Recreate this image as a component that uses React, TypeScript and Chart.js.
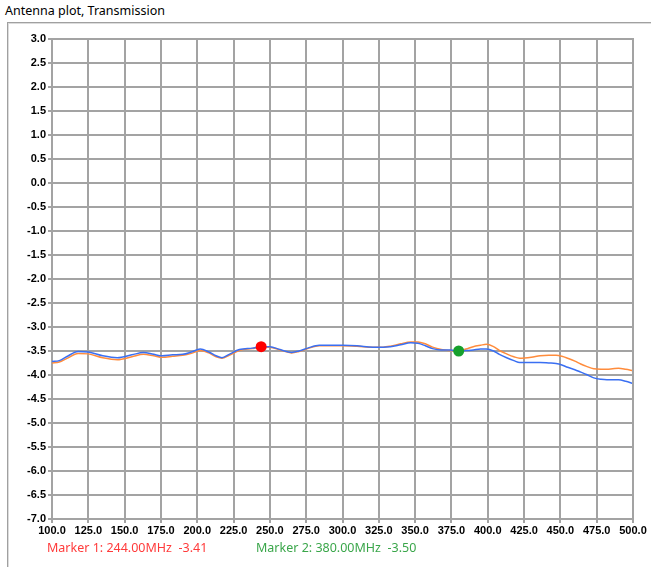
import React, { useEffect, useRef } from "react";
import { Chart, registerables } from "chart.js";

Chart.register(...registerables);

const freqs = [100,105,110,118,125,135,145,155,163,170,176,183,190,196,202,208,213,217,222,229,238,244,250,257,265,270,276,284,292,300,310,321,328,333,340,347,352,357,362,368,374,380,385,390,395,399,404,408,413,418,422,430,436,442,447,451,455,460,464,468,473,478,482,486,490,495,500];

const blueValues = [-3.72,-3.70,-3.62,-3.51,-3.52,-3.60,-3.64,-3.58,-3.53,-3.57,-3.60,-3.58,-3.57,-3.52,-3.46,-3.52,-3.60,-3.64,-3.57,-3.47,-3.44,-3.41,-3.41,-3.47,-3.53,-3.50,-3.44,-3.38,-3.38,-3.38,-3.39,-3.42,-3.42,-3.41,-3.37,-3.33,-3.34,-3.39,-3.45,-3.48,-3.48,-3.50,-3.49,-3.48,-3.46,-3.46,-3.50,-3.57,-3.64,-3.70,-3.74,-3.74,-3.74,-3.75,-3.76,-3.79,-3.84,-3.89,-3.94,-3.99,-4.06,-4.09,-4.10,-4.10,-4.10,-4.13,-4.18];

const orangeValues = [-3.75,-3.73,-3.66,-3.55,-3.56,-3.64,-3.68,-3.62,-3.57,-3.60,-3.63,-3.61,-3.59,-3.55,-3.49,-3.54,-3.62,-3.65,-3.59,-3.49,-3.45,-3.42,-3.42,-3.48,-3.54,-3.51,-3.45,-3.39,-3.39,-3.39,-3.40,-3.42,-3.42,-3.40,-3.35,-3.31,-3.31,-3.35,-3.42,-3.47,-3.49,-3.50,-3.46,-3.41,-3.38,-3.36,-3.41,-3.49,-3.56,-3.62,-3.65,-3.63,-3.60,-3.59,-3.59,-3.61,-3.65,-3.71,-3.77,-3.82,-3.87,-3.88,-3.88,-3.87,-3.86,-3.88,-3.91];

const markerFreqs = [244, 380];
const markerValues = [-3.41, -3.5];
const markerColors = ["#ff0000", "#16a02c"];
const markerTextColors = ["#ff3a3a", "#3aa64a"];

const xMin = 100, xMax = 500, xStep = 25;
const yMin = -7, yMax = 3, yStep = 0.5;

const title = "Antenna plot, Transmission";

export default function App() {
  const ref = useRef<HTMLCanvasElement>(null);

  useEffect(() => {
    const ctx = ref.current!;
    const gridColor = "#a3a3a3";
    const tickFont = { family: "'Liberation Sans', Arial, sans-serif", size: 11, weight: "bold" as const };
    const chart = new Chart(ctx, {
      type: "line",
      data: {
        datasets: [
          {
            type: "scatter" as any,
            data: markerFreqs.map((f, i) => ({ x: f, y: markerValues[i] })),
            pointRadius: 5.5,
            pointBackgroundColor: markerColors,
            pointBorderColor: markerColors,
            pointBorderWidth: 0,
            showLine: false,
            order: 0,
          },
          {
            data: freqs.map((f, i) => ({ x: f, y: blueValues[i] })),
            borderColor: "#3a6ff2",
            borderWidth: 1.5,
            pointRadius: 0,
            tension: 0.4,
            cubicInterpolationMode: "monotone",
            fill: false,
            order: 1,
          },
          {
            data: freqs.map((f, i) => ({ x: f, y: orangeValues[i] })),
            borderColor: "#ff8c3c",
            borderWidth: 1.5,
            pointRadius: 0,
            tension: 0.4,
            cubicInterpolationMode: "monotone",
            fill: false,
            order: 2,
          },
        ],
      },
      options: {
        animation: false,
        responsive: false,
        maintainAspectRatio: false,
        layout: { padding: { left: 0, right: 18, top: 39, bottom: 0 } },
        plugins: { legend: { display: false }, tooltip: { enabled: false }, title: { display: false } },
        scales: {
          x: {
            type: "linear",
            min: xMin,
            max: xMax,
            afterFit: (s: any) => { s.height = 48; },
            ticks: {
              stepSize: xStep,
              autoSkip: false,
              maxRotation: 0,
              color: "#000",
              padding: 1,
              font: tickFont,
              callback: (v: any) => Number(v).toFixed(1),
            },
            grid: { color: gridColor, lineWidth: 2, tickLength: 4, drawTicks: true },
            border: { display: true, color: gridColor, width: 2 },
          },
          y: {
            type: "linear",
            min: yMin,
            max: yMax,
            afterFit: (s: any) => { s.width = 52; },
            ticks: {
              stepSize: yStep,
              autoSkip: false,
              color: "#000",
              padding: 2,
              font: tickFont,
              callback: (v: any) => Number(v).toFixed(1),
            },
            grid: { color: gridColor, lineWidth: 2, tickLength: 4, drawTicks: true },
            border: { display: true, color: gridColor, width: 2 },
          },
        },
      },
      plugins: [
        {
          id: "rightTopBorder",
          afterDraw(c: any) {
            const a = c.chartArea;
            const g = c.ctx;
            g.save();
            g.strokeStyle = gridColor;
            g.lineWidth = 2;
            g.beginPath();
            g.moveTo(a.left, a.top);
            g.lineTo(a.right, a.top);
            g.lineTo(a.right, a.bottom);
            g.stroke();
            g.restore();
          },
        },
      ],
    } as any);
    return () => chart.destroy();
  }, []);

  const textFont = "'Noto Sans', 'Open Sans', sans-serif";

  return (
    <div style={{ position: "absolute", left: 0, top: 0, width: 651, height: 567, overflow: "hidden", background: "#fff" }}>
      <div style={{ position: "absolute", left: 5, top: 2, fontFamily: textFont, fontSize: 12.5, color: "#000", whiteSpace: "nowrap" }}>
        {title}
      </div>
      <div
        style={{
          position: "absolute",
          left: 7,
          top: 22,
          width: 700,
          height: 600,
          borderLeft: "1px solid #a0a0a0",
          borderTop: "1px solid #a0a0a0",
          boxShadow: "inset 1px 1px 0 #dcdcdc",
        }}
      />
      <canvas ref={ref} width={651} height={567} style={{ position: "absolute", left: 0, top: 0, width: 651, height: 567 }} />
      <div style={{ position: "absolute", left: 47, top: 539, fontFamily: textFont, fontSize: 12.5, color: markerTextColors[0], whiteSpace: "pre" }}>
        {`Marker 1: ${markerFreqs[0].toFixed(2)}MHz  ${markerValues[0].toFixed(2)}`}
      </div>
      <div style={{ position: "absolute", left: 256, top: 539, fontFamily: textFont, fontSize: 12.5, color: markerTextColors[1], whiteSpace: "pre" }}>
        {`Marker 2: ${markerFreqs[1].toFixed(2)}MHz  ${markerValues[1].toFixed(2)}`}
      </div>
    </div>
  );
}
